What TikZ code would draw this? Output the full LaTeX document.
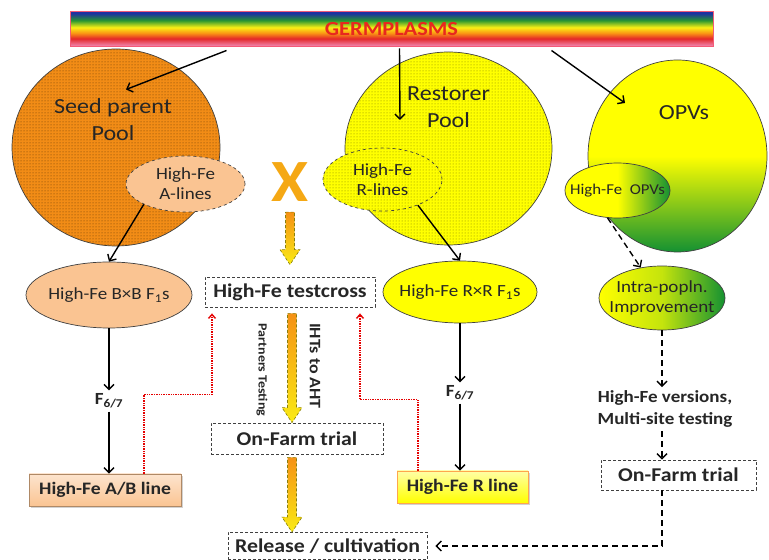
\documentclass[tikz,border=0pt]{standalone}
\usepackage{fontspec}
\setmainfont{Carlito}[FakeStretch=1.12]
\usetikzlibrary{shapes.geometric,arrows.meta,patterns,shadows,calc}

\definecolor{bandPink}{RGB}{240,130,170}
\definecolor{bandRed}{RGB}{228,40,40}
\definecolor{bandOrange}{RGB}{250,150,20}
\definecolor{bandYellow}{RGB}{250,240,20}
\definecolor{bandGreen}{RGB}{40,150,50}
\definecolor{bandBlue}{RGB}{30,50,160}
\pgfdeclareverticalshading{germband}{100bp}{color(0bp)=(bandPink); color(27bp)=(bandPink); color(37bp)=(bandRed); color(45bp)=(bandOrange); color(53bp)=(bandYellow); color(63bp)=(bandGreen); color(73bp)=(bandBlue); color(100bp)=(bandBlue)}

\newcommand\fatarrow[2]{%
  \path[fatarr] let \p1=(#1), \p2=(#2) in
    (\x1-4.5pt,\y1) -- (\x1+4.5pt,\y1) -- (\x1+4.5pt,\y2+15pt) -- (\x1+10pt,\y2+15pt) --
    (\x1,\y2) -- (\x1-10pt,\y2+15pt) -- (\x1-4.5pt,\y2+15pt) -- cycle;}

\begin{document}
\begin{tikzpicture}[x=1pt,y=1pt,
  pool/.style={ellipse,draw=black!75,line width=0.7pt,inner sep=0pt,font=\fontsize{17}{20}\selectfont,align=center,text=black!85},
  ellfont/.style={font=\fontsize{17}{20}\selectfont,align=center,text=black!85},
  speckle/.style={postaction={pattern=dots,pattern color=#1}},
  trial/.style={draw=black!75,dash pattern=on 3pt off 2pt,line width=0.8pt,fill=white,inner sep=0pt,font=\fontsize{19.5}{22}\selectfont\bfseries,text=black!85},
  linebox/.style={line width=0.7pt,inner sep=0pt,font=\fontsize{17.5}{20}\selectfont\bfseries,text=black!85,drop shadow={shadow xshift=2pt,shadow yshift=-2pt,opacity=0.35}},
  bold/.style={font=\fontsize{17}{22}\selectfont\bfseries,text=black!85,align=center},
  arr/.style={draw=black,line width=1.4pt,-{Straight Barb[length=5pt,width=10pt]}},
  dasharr/.style={arr,dash pattern=on 6pt off 4pt},
  redarr/.style={draw=red!90!black,line width=1.4pt,densely dotted,-{Straight Barb[length=4pt,width=7pt]}},
  fatarr/.style={top color=arrOrange,bottom color=arrYellow,draw=arrYellow!55!black,dash pattern=on 3pt off 2pt,line width=0.6pt}]
\definecolor{seedOrange}{RGB}{242,140,22}
\definecolor{peach}{RGB}{250,196,146}
\definecolor{poolYellow}{RGB}{255,255,0}
\definecolor{opvGreen}{RGB}{20,145,50}
\definecolor{germRed}{RGB}{232,40,30}
\definecolor{xGold}{RGB}{245,168,20}
\definecolor{arrOrange}{RGB}{245,145,20}
\definecolor{arrYellow}{RGB}{250,235,20}
\path[use as bounding box,fill=white] (0,0) rectangle (769,560);

\node[draw=bandPink!70!red,line width=1pt,shading=germband,minimum width=643,minimum height=35,inner sep=0pt,text=germRed,font=\fontsize{20}{24}\selectfont\bfseries] (germ) at (391.50,530.50) {GERMPLASMS};

\node[pool,fill=seedOrange,speckle=seedOrange!40!black,minimum width=208,minimum height=197] (seed) at (116.00,412.50) {};
\node[font=\fontsize{21.5}{27}\selectfont,align=center,text=black!85] (seedlbl) at (113.00,440.00) {Seed parent\\Pool};
\node[pool,dashed,fill=peach,minimum width=119,minimum height=56] (alines) at (185.50,376.00) {High-Fe\\A-lines};

\node[pool,fill=poolYellow,speckle=olive,minimum width=207,minimum height=193] (restorer) at (448.50,411.50) {};
\node[font=\fontsize{21.5}{27}\selectfont,align=center,text=black!85] (restlbl) at (448.50,452.50) {Restorer\\Pool};
\node[pool,dashed,fill=poolYellow,speckle=olive,minimum width=119,minimum height=63] (rlines) at (382.50,380.50) {High-Fe\\R-lines};

\node[pool,top color=poolYellow,bottom color=opvGreen,middle color=poolYellow,minimum width=179,minimum height=192] (opv) at (677.50,404.00) {};
\node[font=\fontsize{21.5}{27}\selectfont,text=black!85] (opvlbl) at (684.00,447.00) {OPVs};
\node[pool,left color=poolYellow,right color=opvGreen,middle color=poolYellow,minimum width=105,minimum height=55,label={[ellfont,font=\fontsize{15}{18}\selectfont]center:High-Fe\ \ OPVs}] (hfopv) at (617.50,369.50) {};

\node[text=xGold,font=\fontsize{60}{60}\selectfont\bfseries,inner sep=0pt] (xsign) at (290.00,377.50) {X};

\node[pool,fill=peach,minimum width=166,minimum height=66,label={[ellfont]center:High-Fe B×B F\textsubscript{1}s}] (bxb) at (109.00,265.00) {};
\node[pool,fill=poolYellow,minimum width=154,minimum height=62,label={[ellfont]center:High-Fe R×R F\textsubscript{1}s}] (rxr) at (460.00,268.00) {};
\node[pool,left color=poolYellow,right color=opvGreen,middle color=poolYellow!75!opvGreen,minimum width=126,minimum height=64,label={[ellfont]center:{Intra-popln.\\Improvement}}] (intra) at (662.00,262.00) {};

\node[trial,minimum width=170,minimum height=30] (testx) at (290.00,268.00) {High-Fe testcross};
\node[trial,minimum width=172,minimum height=31] (farmM) at (297.00,121.50) {On-Farm trial};
\node[trial,minimum width=155,minimum height=30] (farmR) at (678.50,85.00) {On-Farm trial};
\node[trial,minimum width=199,minimum height=27] (release) at (327.50,14.00) {Release / cultivation};

\node[bold] (f67l) at (109.00,159.00) {F\textsubscript{6/7}};
\node[bold] (f67r) at (460.00,167.00) {F\textsubscript{6/7}};
\node[bold] (versions) at (665.00,151.00) {High-Fe versions,\\Multi-site testing};
\node[rotate=-90,font=\fontsize{12.5}{14}\selectfont\bfseries,text=black!85] (partners) at (262.00,190.00) {Partners Testing};
\node[rotate=-90,font=\fontsize{16}{18}\selectfont\bfseries,text=black!85] (ihts) at (315.00,194.00) {IHTs to AHT};

\node[linebox,draw=peach!70!black,top color=peach!45,bottom color=peach,minimum width=152,minimum height=32] (ab) at (105.00,70.00) {High-Fe A/B line};
\node[linebox,draw=orange!70,top color=yellow!35,bottom color=poolYellow,minimum width=131,minimum height=32] (rbox) at (462.50,73.00) {High-Fe R line};

\draw[arr] ([shift={(157,-3)}]germ.south west) -- ([shift={(10,58)}]seed.center);
\draw[arr] ([shift={(330,-1)}]germ.south west) -- ([shift={(-48.5,28.5)}]restorer.center);
\draw[arr] ([shift={(482,-3)}]germ.south west) -- ([shift={(-52.5,53)}]opv.center);

\draw[arr] (alines.206) -- (bxb.north);
\draw[arr] (bxb.south) -- (bxb.south |- f67l.north);
\draw[arr] (f67l.south) -- (f67l.south |- ab.north);
\draw[arr] (rlines.-36) -- (rxr.north);
\draw[arr] (rxr.south) -- (rxr.south |- f67r.north);
\draw[arr] (f67r.south) -- (f67r.south |- rbox.north);

\draw[dasharr] (hfopv.250) -- (intra.125);
\draw[dasharr] (intra.south) -- (intra.south |- versions.north);
\draw[dasharr] (versions.south -| intra.south) -- (intra.south |- farmR.north);
\draw[dasharr] (intra.south |- farmR.south) |- ([xshift=8pt]release.east);

\draw[redarr] ([xshift=39pt]ab.north) -- ++(0,79) -| ([shift={(-78,-6)}]testx.south);
\draw[redarr] ([xshift=-44.5pt]rbox.north) -- ++(0,71) -| ([shift={(70,-6)}]testx.south);

\fatarrow{[yshift=-10pt]xsign.south}{[yshift=12pt]testx.north}
\fatarrow{[shift={(2,-6)}]testx.south}{farmM.north}
\fatarrow{[shift={(-5,-3)}]farmM.south}{release.north}
\end{tikzpicture}
\end{document}
